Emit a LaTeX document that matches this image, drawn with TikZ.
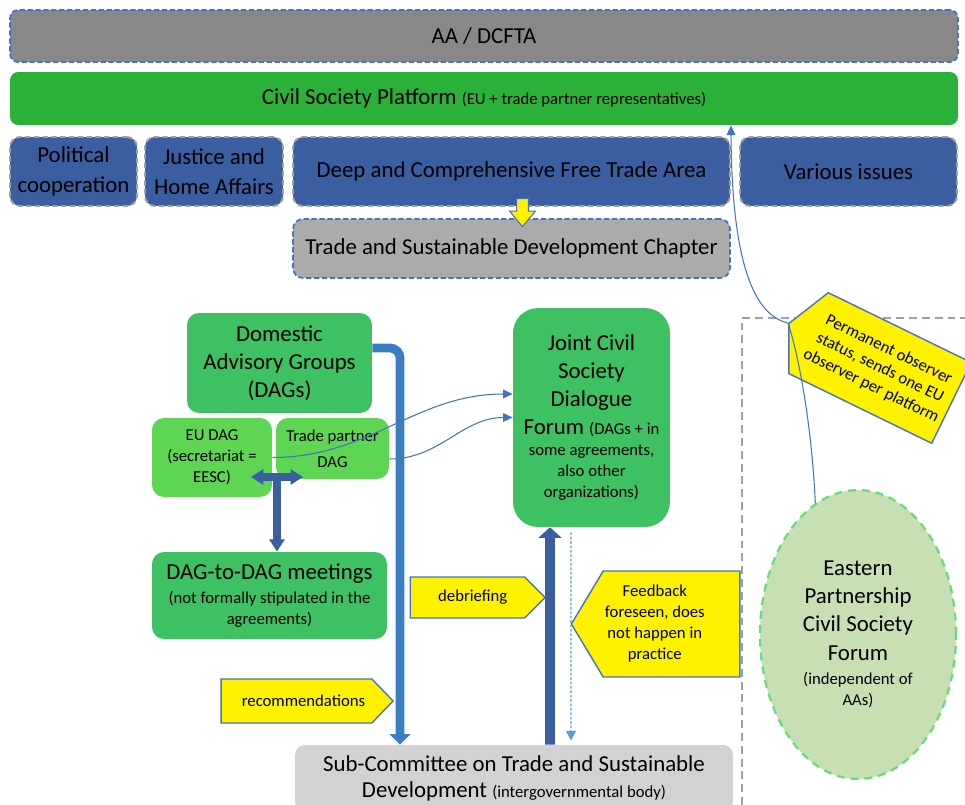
\documentclass[tikz,border=0pt]{standalone}
\usepackage{fontspec}
\setmainfont{Carlito}
\usetikzlibrary{arrows.meta,shapes.geometric,shapes.symbols,shapes.arrows,positioning}

\definecolor{aagray}{RGB}{136,136,136}
\definecolor{platgreen}{RGB}{43,177,58}
\definecolor{areablue}{RGB}{59,94,160}
\definecolor{tsdgray}{RGB}{171,171,171}
\definecolor{daggreen}{RGB}{61,193,98}
\definecolor{lightdag}{RGB}{94,213,83}
\definecolor{subgray}{RGB}{211,209,211}
\definecolor{epgreen}{RGB}{198,224,180}
\definecolor{epborder}{RGB}{102,221,119}
\definecolor{linkblue}{RGB}{68,114,196}
\definecolor{recblue}{RGB}{58,126,193}
\definecolor{feedblue}{RGB}{91,155,213}
\definecolor{dashgray}{RGB}{160,160,160}

\newcommand{\mainfs}{\fontsize{13}{16}\selectfont}
\newcommand{\smallfs}{\fontsize{9.5}{12}\selectfont}

\begin{document}
\begin{tikzpicture}[
            x=0.02cm, y=-0.02cm,
            every node/.style={align=center, font=\mainfs, inner sep=1pt},
            frame box/.style={rectangle, rounded corners=0.16cm, minimum width=18.96cm},
            area box/.style={rectangle, rounded corners=0.2cm, fill=areablue, draw=dashgray, line width=1.1pt, dash pattern=on 3pt off 2pt, minimum height=1.38cm, font=\fontsize{13}{17}\selectfont},
            dag box/.style={rectangle, rounded corners=0.24cm, fill=daggreen},
            sub dag/.style={rectangle, rounded corners=0.24cm, fill=lightdag, font=\smallfs},
            note/.style={shape=signal, fill=yellow, draw=linkblue, line width=0.8pt, font=\smallfs, inner sep=1pt},
            rec line/.style={draw=recblue, line width=5pt, rounded corners=0.2cm, -{Triangle[length=6pt,width=11.5pt]}},
            up line/.style={draw=areablue, line width=5.5pt, -{Triangle[length=6pt,width=13pt]}},
            feedback line/.style={draw=feedblue, line width=0.6pt, dash pattern=on 1.5pt off 1pt, -{Triangle[length=5.5pt,width=5.5pt]}},
            dag line/.style={draw=areablue, line width=4.5pt, >={Triangle[length=7pt,width=8.5pt]}},
            link/.style={draw=linkblue, line width=0.6pt, -{Triangle[length=5.5pt,width=5pt]}},
        ]
            \useasboundingbox (0,0) rectangle (965,805);

            % agreement frame
            \node[frame box, fill=aagray, draw=linkblue, line width=1pt, dash pattern=on 3pt off 1.5pt, minimum height=1.04cm] (aa) at (484,36) {AA / DCFTA};
            \node[frame box, fill=platgreen, minimum height=1.06cm] (csp) at (484,98.5) {Civil Society Platform {\smallfs (EU + trade partner representatives)}};

            \node[area box, minimum width=2.54cm] (pol) at (73.5,171.5) {Political\\cooperation};
            \node[area box, minimum width=2.76cm] (jha) at (214,171.5) {Justice and\\Home Affairs};
            \node[area box, minimum width=8.74cm] (dcfta) at (511.5,171.5) {Deep and Comprehensive Free Trade Area};
            \node[area box, minimum width=4.34cm] (various) at (848.5,171.5) {Various issues};
            \node[rectangle, rounded corners=0.2cm, fill=tsdgray, draw=linkblue, line width=1pt, dash pattern=on 3pt off 1.5pt, minimum width=8.74cm, minimum height=1.18cm] (tsd) at (511.5,248.5) {Trade and Sustainable Development Chapter};
            \node[single arrow, fill=yellow, draw=linkblue, line width=0.6pt, inner sep=3.1pt, minimum height=0.56cm, single arrow head extend=4pt, single arrow tip angle=80, rotate=-90] (tsdarrow) at (522.5,209) {};

            % advisory groups
            \node[dag box, minimum width=3.7cm, minimum height=2cm] (dag) at (279.5,363) {Domestic\\Advisory Groups\\(DAGs)};
            \node[sub dag, minimum width=2.4cm, minimum height=1.58cm] (eudag) at (212,457.5) {EU DAG\\(secretariat =\\EESC)};
            \node[sub dag, minimum width=2.26cm, minimum height=1.22cm] (tpdag) at (332.5,448.5) {Trade partner\\[3pt]DAG};
            \node[dag box, font=\smallfs, minimum width=4.7cm, minimum height=1.74cm] (d2d) at (269.5,595.5) {{\mainfs DAG-to-DAG meetings}\\[1.5pt](not formally stipulated in the\\agreements)};
            \node[dag box, rounded corners=0.5cm, minimum width=3.14cm, minimum height=4.38cm] (jcsdf) at (591.5,417.5) {Joint Civil\\Society\\Dialogue\\Forum {\smallfs (DAGs + in}\\[-4pt]{\smallfs some agreements,}\\[-4pt]{\smallfs also other}\\[-4pt]{\smallfs organizations)}};
            \node[rectangle, rounded corners=0.2cm, fill=subgray, minimum width=8.76cm, minimum height=1.32cm] (sub) at (514,778) {Sub-Committee on Trade and Sustainable\\[-1.3pt]Development {\smallfs (intergovernmental body)}};

            % eastern partnership
            \draw[dashgray, line width=1.1pt, dash pattern=on 4.5pt off 2.8pt] (742,805) |- (965,318);
            \node[ellipse, fill=epgreen, draw=epborder, line width=1.3pt, dash pattern=on 4.5pt off 3.4pt, inner sep=0pt, minimum width=3.92cm, minimum height=5.78cm] (epcsf) at (858,634.5) {Eastern\\Partnership\\Civil Society\\Forum\\[-2pt]{\smallfs (independent of}\\[-4pt]{\smallfs AAs)}};

            % callouts
            \node[note, signal to=west, signal pointer angle=128, rotate=-26, minimum width=3.62cm, minimum height=1.8cm] (obs) at (880,368) {Permanent observer\\[-0.5pt]status, sends one EU\\[-0.5pt]observer per platform};
            \node[note, signal to=east, signal pointer angle=90, minimum width=2.7cm, minimum height=0.82cm] (debrief) at (467.5,597.5) {\hspace*{6pt}debriefing};
            \node[note, signal to=east, signal pointer angle=92, minimum width=3.44cm, minimum height=0.88cm] (recommend) at (296.5,701) {\hspace*{8pt}recommendations};
            \node[note, signal to=west, signal pointer angle=118, minimum width=3.3cm, minimum height=2.12cm] (feedback) at (671.5,624) {\begin{tabular}{@{}c@{}}Feedback\\foreseen, does\\not happen in\\practice\end{tabular}\hspace*{19pt}};
            \coordinate (dagmid) at (277,477);

            \draw[rec line] ([yshift=0.3cm]dag.east) -| ([xshift=-2.28cm]sub.north);
            \draw[up line] ([xshift=0.72cm]sub.north) -- ([xshift=-0.83cm]jcsdf.south);
            \draw[feedback line] ([xshift=-0.41cm,yshift=-0.1cm]jcsdf.south) -- ([xshift=1.14cm,yshift=0.08cm]sub.north);
            \draw[dag line, <->] ([xshift=-0.52cm]dagmid) -- ([xshift=0.52cm]dagmid);
            \draw[dag line, ->] (dagmid) -- (d2d.north -| dagmid);
            \draw[link] (eudag.east) to[out=0, in=180] ([yshift=0.47cm]jcsdf.west);
            \draw[link] ([yshift=-0.21cm]tpdag.east) to[out=0, in=180] (jcsdf.west);
            \draw[link] (epcsf.108) .. controls (812,430) and (800,360) .. (obs.west)
                .. controls (760,316) and (732,280) .. ([xshift=4.94cm]csp.south);
        \end{tikzpicture}
\end{document}
